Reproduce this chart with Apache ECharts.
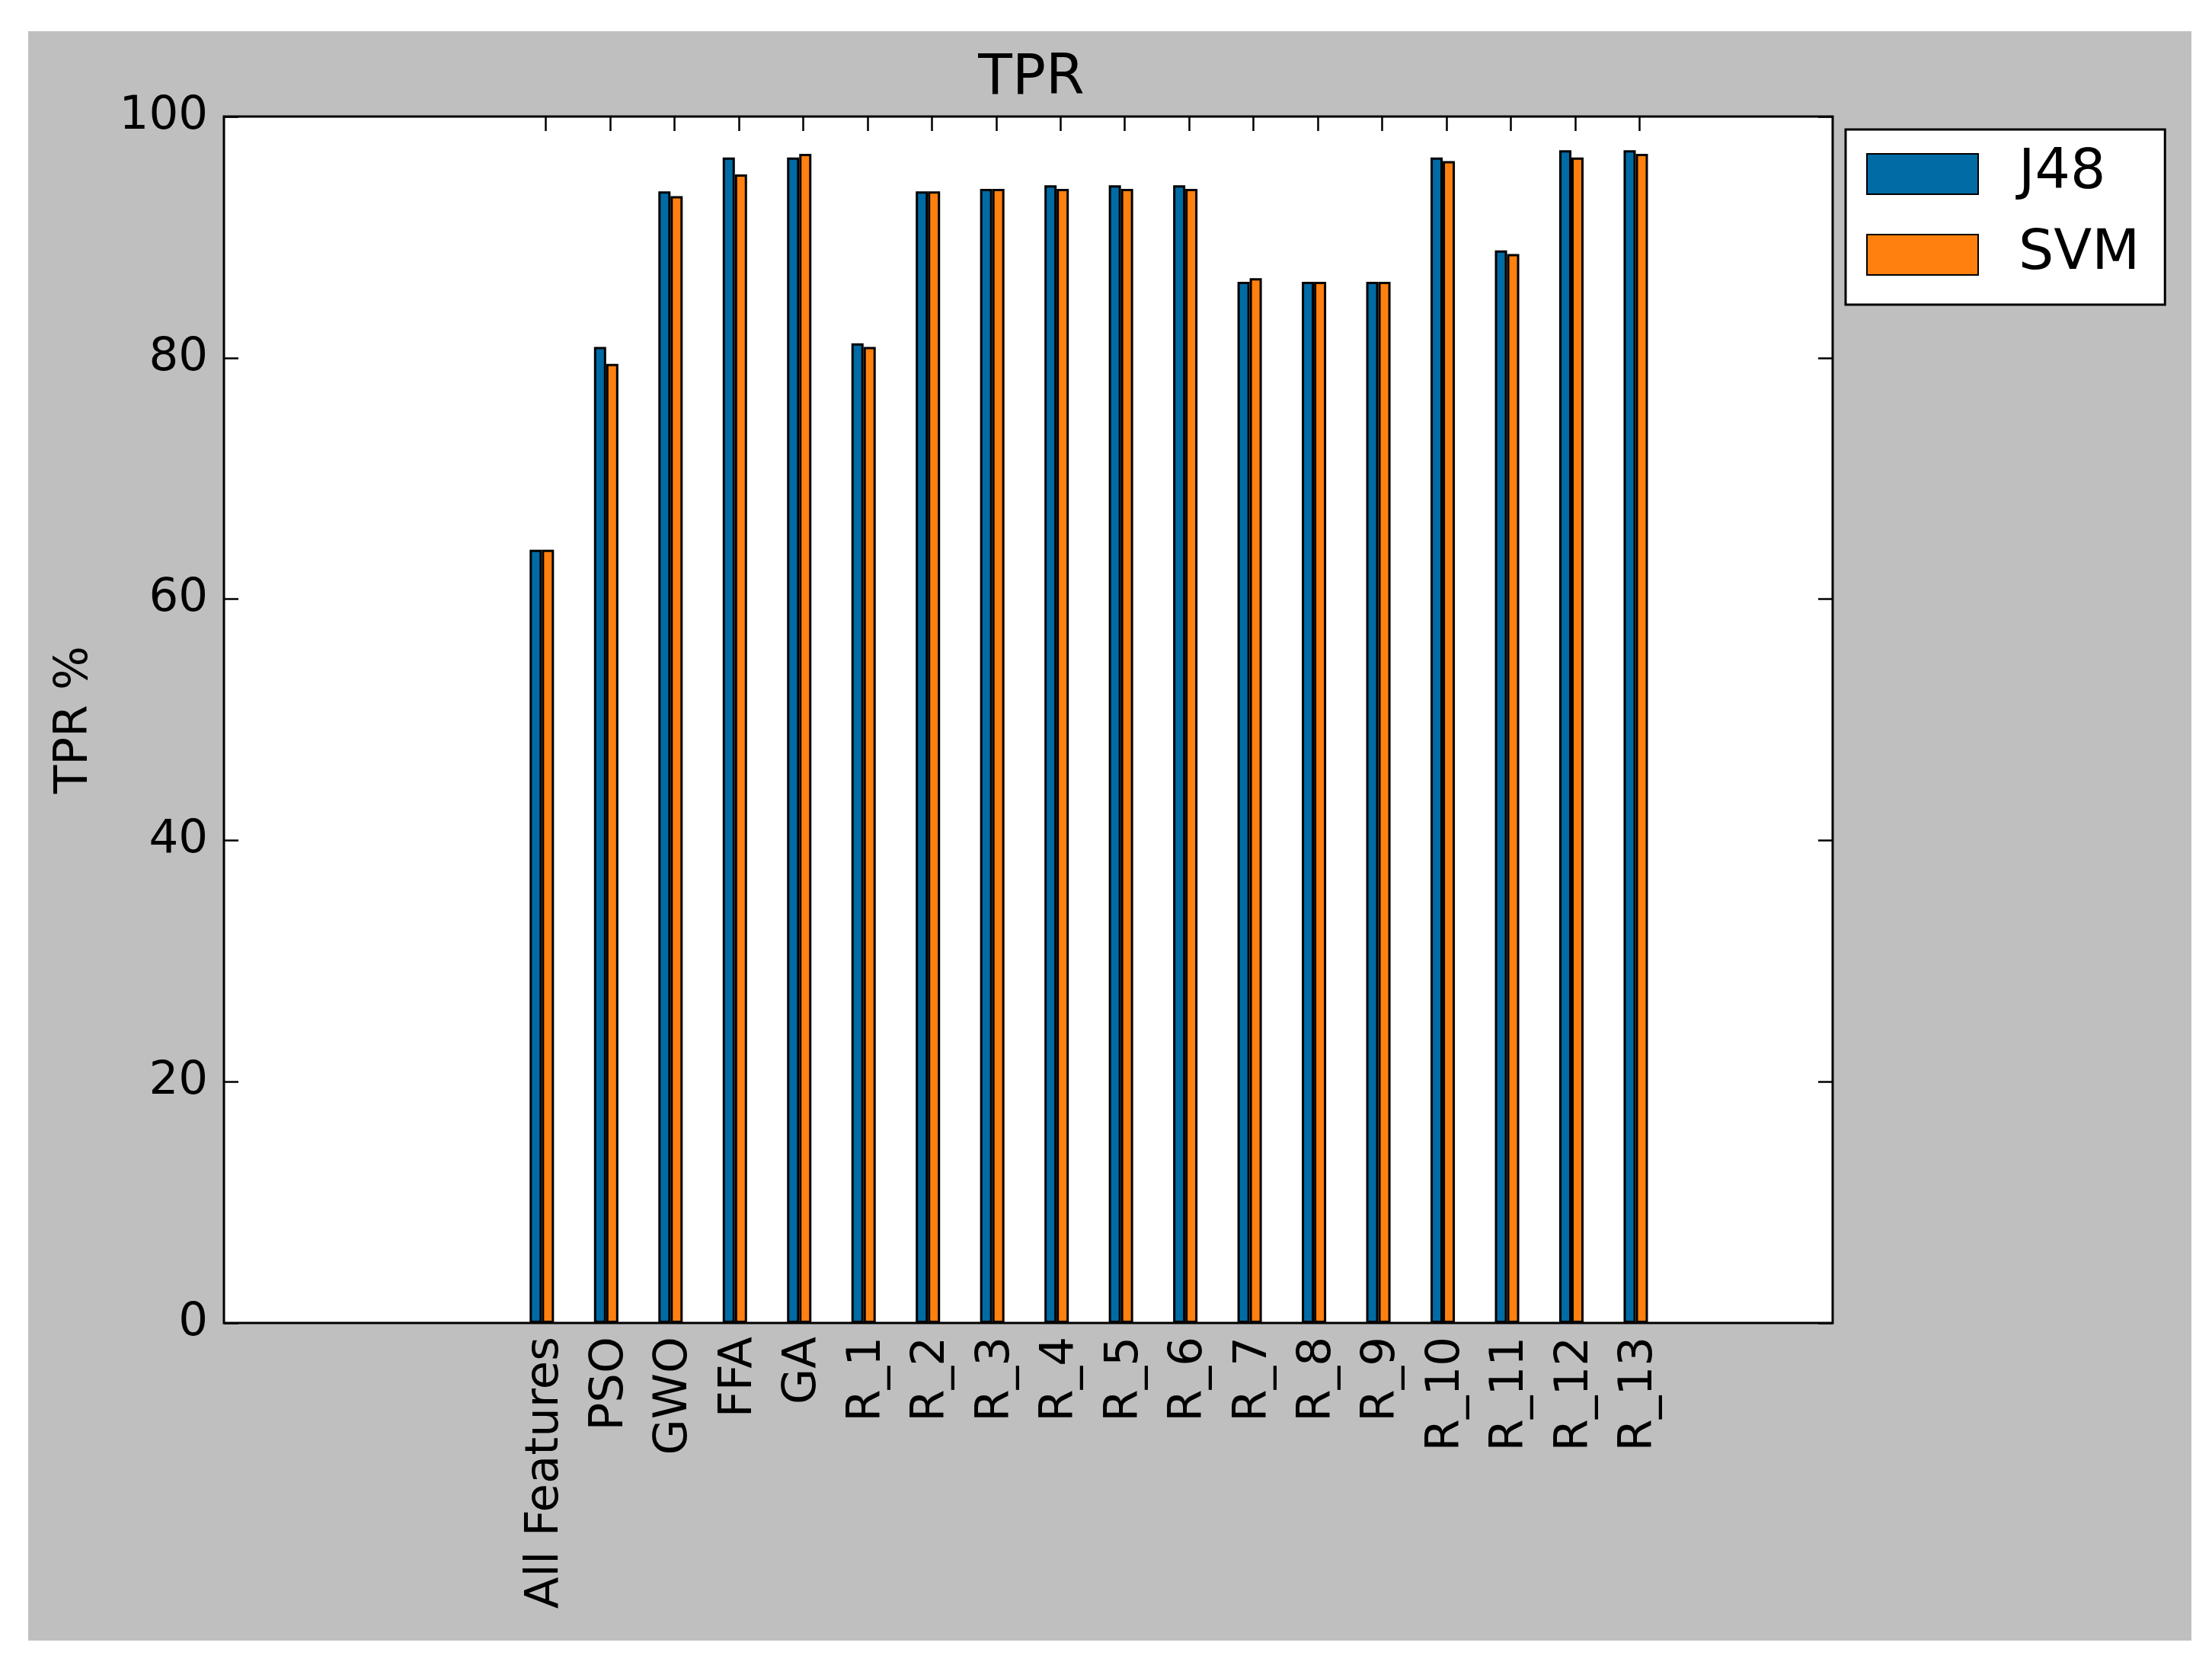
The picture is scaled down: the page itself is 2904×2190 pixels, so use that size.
<!DOCTYPE html>
<html>
<head>
<meta charset="utf-8">
<script src="https://cdn.jsdelivr.net/npm/echarts@6/dist/echarts.min.js"></script>
<style>
  html, body { margin: 0; padding: 0; background: #ffffff; width: 2904px; height: 2190px; overflow: hidden; }
  #chart { position: absolute; left: 37px; top: 41px; width: 2840px; height: 2113px; }
</style>
</head>
<body>
<div id="chart"></div>
<script>
// ---- data ----
const categories = ['All Features', 'PSO', 'GWO', 'FFA', 'GA', 'R_1', 'R_2', 'R_3', 'R_4', 'R_5', 'R_6', 'R_7', 'R_8', 'R_9', 'R_10', 'R_11', 'R_12', 'R_13'];
const j48Values = [64.1, 80.9, 93.8, 96.6, 96.6, 81.2, 93.8, 94.0, 94.3, 94.3, 94.3, 86.3, 86.3, 86.3, 96.6, 88.9, 97.2, 97.2];
const svmValues = [64.1, 79.5, 93.4, 95.2, 96.9, 80.9, 93.8, 94.0, 94.0, 94.0, 94.0, 86.6, 86.3, 86.3, 96.3, 88.6, 96.6, 96.9];
const yTicks = [0, 20, 40, 60, 80, 100];
const seriesNames = ['J48', 'SVM'];

// ---- styling / layout ----
const FONT = 'DejaVu Sans';
const TICK_SHIFT = 0.06;           // matplotlib ticks sit slightly right of the pair centre
const LEAD = 5;                    // empty x-units before the first category
const xMin = TICK_SHIFT - LEAD;    // -4.94
const xMax = xMin + 25;            // 20.06
const tickPositions = categories.map((c, i) => i + TICK_SHIFT);
// slots of the mirrored top axis (one per x-unit, unlabeled)
const topSlots = Array.from({ length: 26 }, (_, k) => 'slot' + k);

const chart = echarts.init(document.getElementById('chart'), null, { renderer: 'canvas' });

const tickStyle = { color: '#000', width: 2.5 };

function yAxisCommon(pos, showLabels) {
  const ax = {
    type: 'value',
    position: pos,
    min: yTicks[0],
    max: yTicks[yTicks.length - 1],
    interval: 20,
    axisLine: { show: false, onZero: false },
    splitLine: { show: false },
    axisTick: { show: true, inside: true, length: 19, lineStyle: tickStyle },
    axisLabel: {
      show: showLabels, margin: 21, fontSize: 61, fontFamily: FONT, color: '#000'
    }
  };
  if (showLabels) {
    ax.name = 'TPR %';
    ax.nameLocation = 'middle';
    ax.nameGap = 165;
    ax.nameTextStyle = { fontSize: 61, fontFamily: FONT, color: '#000' };
  }
  return ax;
}

const option = {
  backgroundColor: '#bfbfbf',
  animation: false,
  title: {
    text: 'TPR',
    left: 1312,
    textAlign: 'center',
    top: 22,
    textStyle: { fontSize: 73, fontWeight: 'normal', fontFamily: FONT, color: '#000', lineHeight: 73 }
  },
  legend: {
    data: seriesNames,
    orient: 'vertical',
    left: 2386,
    top: 129,
    padding: [22, 33, 29, 27],
    itemWidth: 146,
    itemHeight: 53,
    itemGap: 33,
    backgroundColor: '#ffffff',
    borderColor: '#000',
    borderWidth: 3,
    borderRadius: 0,
    icon: 'rect',
    textStyle: { fontSize: 73, fontFamily: FONT, color: '#000', padding: [0, 0, 0, 48] }
  },
  grid: {
    left: 257, top: 112, right: 471, bottom: 417,
    show: true, backgroundColor: '#ffffff', borderColor: '#000', borderWidth: 3
  },
  xAxis: [
    {
      type: 'value',
      position: 'bottom',
      min: xMin,
      max: xMax,
      axisLine: { show: false, onZero: false },
      splitLine: { show: false },
      axisTick: { show: true, inside: true, length: 19, customValues: tickPositions, lineStyle: tickStyle },
      axisLabel: {
        customValues: tickPositions,
        rotate: 90,
        margin: 18,
        fontSize: 61,
        fontFamily: FONT,
        color: '#000',
        formatter: function (v) { return categories[Math.round(v - TICK_SHIFT)] || ''; }
      }
    },
    {
      type: 'category',
      position: 'top',
      data: topSlots,
      boundaryGap: false,
      axisLine: { show: false, onZero: false },
      splitLine: { show: false },
      axisLabel: { show: true, interval: 0, formatter: function () { return ''; } },
      axisTick: {
        show: true, inside: true, length: 19, lineStyle: tickStyle,
        interval: function (idx) { return idx >= LEAD && idx < LEAD + categories.length; }
      }
    }
  ],
  yAxis: [yAxisCommon('left', true), yAxisCommon('right', false)],
  series: [
    {
      name: seriesNames[0], type: 'bar', xAxisIndex: 0, yAxisIndex: 0,
      barWidth: 16, barGap: '0%',
      itemStyle: { color: '#006BA4', borderColor: '#000', borderWidth: 3 },
      data: categories.map((c, i) => [i, j48Values[i]])
    },
    {
      name: seriesNames[1], type: 'bar', xAxisIndex: 0, yAxisIndex: 0,
      barWidth: 16, barGap: '0%',
      itemStyle: { color: '#FF800E', borderColor: '#000', borderWidth: 3 },
      data: categories.map((c, i) => [i, svmValues[i]])
    }
  ]
};
chart.setOption(option);
</script>
</body>
</html>
